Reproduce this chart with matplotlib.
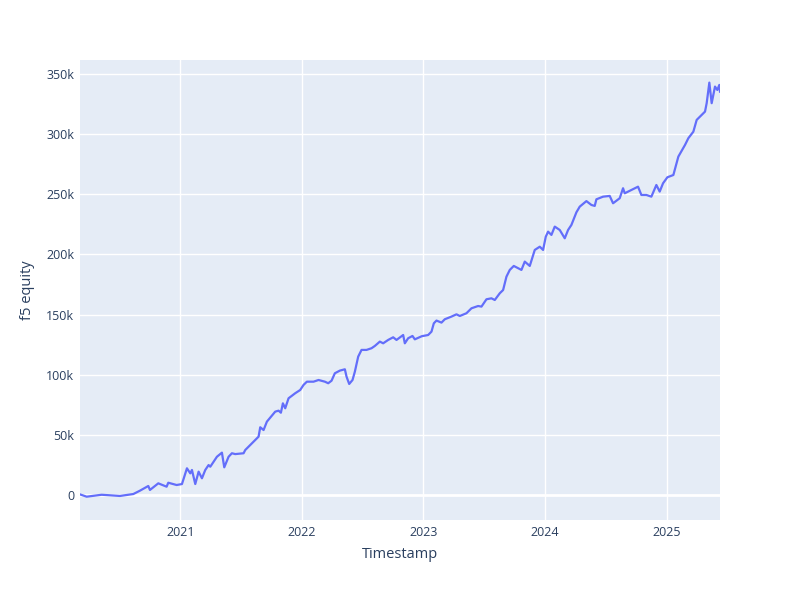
import matplotlib.pyplot as plt
import matplotlib.dates as mdates
import matplotlib.ticker as mticker
import pandas as pd

plt.rcParams['font.family'] = ['Open Sans', 'DejaVu Sans']

# (approx)
dates = [
    "2020-03-06", "2020-03-26", "2020-05-10", "2020-07-04", "2020-08-13", "2020-09-02",
    "2020-09-27", "2020-10-02", "2020-10-27", "2020-11-21", "2020-11-26", "2020-12-21",
    "2021-01-06", "2021-01-21", "2021-01-31", "2021-02-05", "2021-02-15", "2021-02-25",
    "2021-03-07", "2021-03-17", "2021-03-27", "2021-04-01", "2021-04-21", "2021-05-06",
    "2021-05-13", "2021-05-26", "2021-06-05", "2021-06-15", "2021-07-10", "2021-07-15",
    "2021-07-30", "2021-08-14", "2021-08-24", "2021-08-29", "2021-09-08", "2021-09-18",
    "2021-10-13", "2021-10-23", "2021-10-30", "2021-11-05", "2021-11-12", "2021-11-22",
    "2021-12-12", "2021-12-27", "2022-01-06", "2022-01-16", "2022-02-05", "2022-02-20",
    "2022-03-11", "2022-03-21", "2022-03-31", "2022-04-10", "2022-04-25", "2022-05-10",
    "2022-05-15", "2022-05-23", "2022-06-02", "2022-06-09", "2022-06-19", "2022-06-29",
    "2022-07-14", "2022-07-29", "2022-08-08", "2022-08-23", "2022-09-02", "2022-09-17",
    "2022-10-02", "2022-10-12", "2022-11-01", "2022-11-06", "2022-11-16", "2022-11-29",
    "2022-12-06", "2022-12-27", "2023-01-15", "2023-01-25", "2023-02-01", "2023-02-09",
    "2023-02-24", "2023-03-06", "2023-03-26", "2023-04-10", "2023-04-20", "2023-05-10",
    "2023-05-25", "2023-06-14", "2023-06-24", "2023-07-09", "2023-07-24", "2023-08-03",
    "2023-08-18", "2023-08-28", "2023-09-07", "2023-09-17", "2023-09-29", "2023-10-12",
    "2023-10-22", "2023-11-01", "2023-11-16", "2023-12-01", "2023-12-16", "2023-12-26",
    "2024-01-03", "2024-01-10", "2024-01-20", "2024-01-30", "2024-02-14", "2024-02-29",
    "2024-03-10", "2024-03-20", "2024-04-04", "2024-04-14", "2024-05-04", "2024-05-19",
    "2024-05-29", "2024-06-03", "2024-06-23", "2024-07-13", "2024-07-23", "2024-08-12",
    "2024-08-22", "2024-08-27", "2024-09-16", "2024-10-06", "2024-10-16", "2024-10-31",
    "2024-11-15", "2024-11-30", "2024-12-10", "2024-12-20", "2025-01-02", "2025-01-20",
    "2025-02-04", "2025-02-24", "2025-03-06", "2025-03-21", "2025-03-31", "2025-04-15",
    "2025-04-25", "2025-04-30", "2025-05-08", "2025-05-15", "2025-05-25", "2025-06-01",
    "2025-06-07", "2025-06-09",
]
equity = [
    500, -1400, 200, -800, 800, 3600,
    7500, 4200, 9700, 6900, 10200, 8300,
    9100, 22200, 18000, 20800, 9100, 19400,
    13900, 20800, 24900, 23500, 31800, 35200,
    23000, 31800, 34700, 34000, 34700, 37400,
    41600, 45700, 48500, 56300, 54000, 61000,
    69300, 70100, 68400, 76200, 72100, 80400,
    84600, 87300, 91500, 94200, 94200, 95600,
    94200, 92900, 95000, 101200, 103400, 104500,
    98400, 92300, 95600, 102500, 115000, 120600,
    120600, 122000, 123900, 127500, 126100, 128900,
    131100, 128900, 133000, 126100, 130300, 132200,
    129400, 132000, 133000, 135800, 142700, 145000,
    143300, 146100, 148300, 150200, 148800, 151100,
    155200, 157100, 156600, 162700, 163500, 162100,
    167700, 170400, 181500, 187100, 190400, 188500,
    187100, 194000, 190400, 203700, 206400, 203700,
    214700, 218900, 216200, 223100, 220300, 213400,
    220300, 224500, 235000, 239700, 244300, 241100,
    240300, 245800, 248000, 248600, 242500, 246700,
    255000, 250800, 253600, 256300, 249400, 249400,
    248000, 257700, 252200, 259100, 264100, 266000,
    281300, 291000, 296600, 302000, 311800, 316000,
    318700, 325700, 342800, 325700, 339500, 336700,
    340900, 335300,
]

ts = pd.to_datetime(dates)

fig = plt.figure(figsize=(8, 6), dpi=100)
ax = fig.add_axes([0.1, 0.1333, 0.8, 0.7667])
ax.set_facecolor("#E5ECF6")
ax.plot(ts, equity, color="#636EFA", linewidth=1.6)

ax.set_xlim(pd.Timestamp("2020-03-06"), pd.Timestamp("2025-06-09"))
ax.set_ylim(-20800, 361600)
ax.xaxis.set_major_locator(mdates.YearLocator())
ax.xaxis.set_major_formatter(mdates.DateFormatter("%Y"))
ax.yaxis.set_major_locator(mticker.MultipleLocator(50000))
ax.yaxis.set_major_formatter(mticker.FuncFormatter(lambda v, p: "0" if v == 0 else f"{int(v/1000)}k"))

ax.grid(True, color="white", linewidth=1)
ax.set_axisbelow(True)
ax.axhline(0, color="white", linewidth=2, zorder=0.5)
for s in ax.spines.values():
    s.set_visible(False)
ax.tick_params(length=0, colors="#2a3f5f", labelsize=9, pad=4)
ax.set_xlabel("Timestamp", color="#2a3f5f", fontsize=10.5)
ax.set_ylabel("f5 equity", color="#2a3f5f", fontsize=10.5)
ax.xaxis.set_label_coords(0.5, -0.058)
ax.yaxis.set_label_coords(-0.07, 0.5)

fig.savefig("out.png", dpi=100)
